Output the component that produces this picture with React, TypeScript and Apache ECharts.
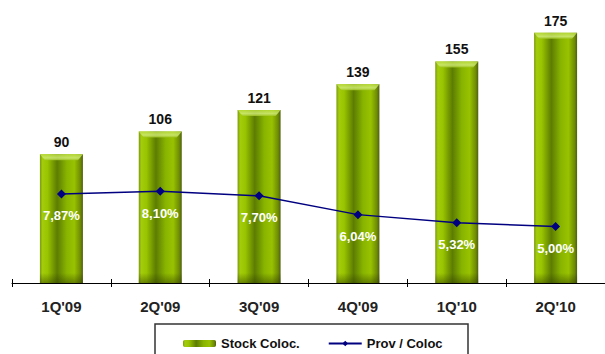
import React, { useEffect, useRef } from "react";
import * as echarts from "echarts";

const categories = ["1Q'09", "2Q'09", "3Q'09", "4Q'09", "1Q'10", "2Q'10"];
const stockColoc = [90, 106, 121, 139, 155, 175];
const provColoc = [7.87, 8.1, 7.7, 6.04, 5.32, 5.0];
const seriesNames = ["Stock Coloc.", "Prov / Coloc"];

const FONT = "'Liberation Sans', Arial, sans-serif";

export default function App() {
  const ref = useRef<HTMLDivElement>(null);
  useEffect(() => {
    if (!ref.current) return;
    const chart = echarts.init(ref.current, undefined, { renderer: "svg" });
    const barGrad = new echarts.graphic.LinearGradient(0, 0, 1, 0, [
      { offset: 0, color: "#7a9a10" },
      { offset: 0.06, color: "#a4cc0a" },
      { offset: 0.18, color: "#98c400" },
      { offset: 0.4, color: "#5c7c02" },
      { offset: 0.62, color: "#88b400" },
      { offset: 0.8, color: "#98c200" },
      { offset: 0.94, color: "#6f8c04" },
      { offset: 1, color: "#4d5f10" },
    ]);
    const option: any = {
      animation: false,
      backgroundColor: "#ffffff",
      grid: { left: 12, right: -7, top: 0, bottom: 71, containLabel: false },
      graphic: [
        {
          type: "rect",
          z: 0,
          shape: { x: 155, y: 324, width: 313, height: 40 },
          style: { fill: "#ffffff", stroke: "#333333", lineWidth: 1.5 },
        },
      ],
      legend: {
        data: seriesNames,
        left: 178,
        top: 332,
        z: 10,
        itemWidth: 33,
        itemHeight: 7,
        itemGap: 28,
        textStyle: { fontFamily: FONT, fontWeight: "bold", fontSize: 13, color: "#111" },
      },
      xAxis: [
        {
          type: "category",
          data: categories,
          boundaryGap: true,
          axisLine: { lineStyle: { color: "#000", width: 1 } },
          axisTick: { show: true, length: 4, lineStyle: { color: "#000" } },
          axisLabel: {
            margin: 16,
            fontFamily: FONT,
            fontWeight: "bold",
            fontSize: 15,
            color: "#222",
          },
          splitLine: { show: false },
        },
        {
          type: "category",
          data: categories,
          position: "bottom",
          boundaryGap: true,
          axisLine: { show: false },
          axisTick: { show: true, inside: true, length: 4, lineStyle: { color: "#000" } },
          axisLabel: { show: false },
        },
      ],
      yAxis: [
        { type: "value", min: 0, max: 198, show: false, splitLine: { show: false } },
        { type: "value", min: 0, max: 25, show: false, splitLine: { show: false } },
      ],
      series: [
        {
          name: seriesNames[0],
          type: "bar",
          data: stockColoc,
          barWidth: 43,
          z: 2,
          itemStyle: { color: barGrad },
          label: {
            show: true,
            position: "top",
            distance: 5,
            fontFamily: FONT,
            fontWeight: "bold",
            fontSize: 14,
            color: "#111",
          },
        },
        {
          name: "bevel",
          type: "custom",
          z: 3,
          silent: true,
          data: stockColoc.map((v, i) => [i, v]),
          renderItem: (params: any, api: any) => {
            const i = api.value(0);
            const v = api.value(1);
            const top = api.coord([i, v]);
            const bot = api.coord([i, 0]);
            const w = 43;
            const l = top[0] - w / 2;
            const r = top[0] + w / 2;
            return {
              type: "group",
              children: [
                {
                  type: "polygon",
                  shape: {
                    points: [
                      [l, top[1]],
                      [r, top[1]],
                      [r - 5, top[1] + 6],
                      [l + 5, top[1] + 6],
                    ],
                  },
                  style: {
                    fill: new echarts.graphic.LinearGradient(0, 0, 0, 1, [
                      { offset: 0, color: "#b8da3a" },
                      { offset: 0.6, color: "#d0ea78" },
                      { offset: 1, color: "#a0c424" },
                    ]),
                    opacity: 0.85,
                  },
                },
                {
                  type: "rect",
                  shape: { x: l, y: bot[1] - 10, width: w, height: 10 },
                  style: {
                    fill: new echarts.graphic.LinearGradient(0, 0, 0, 1, [
                      { offset: 0, color: "rgba(40,50,0,0)" },
                      { offset: 1, color: "rgba(40,50,0,0.45)" },
                    ]),
                  },
                },
              ],
            };
          },
        },
        {
          name: seriesNames[1],
          type: "line",
          yAxisIndex: 1,
          data: provColoc,
          z: 5,
          symbol: "diamond",
          symbolSize: 9,
          lineStyle: { color: "#000080", width: 1.5 },
          itemStyle: { color: "#000080" },
          label: {
            show: true,
            position: "bottom",
            distance: 11,
            fontFamily: FONT,
            fontWeight: "bold",
            fontSize: 13,
            color: "#ffffff",
            formatter: (p: any) => p.value.toFixed(2).replace(".", ",") + "%",
          },
        },
      ],
    };
    chart.setOption(option);
    return () => chart.dispose();
  }, []);
  return (
    <div
      ref={ref}
      style={{ position: "fixed", left: 0, top: 0, width: 605, height: 354 }}
    />
  );
}
